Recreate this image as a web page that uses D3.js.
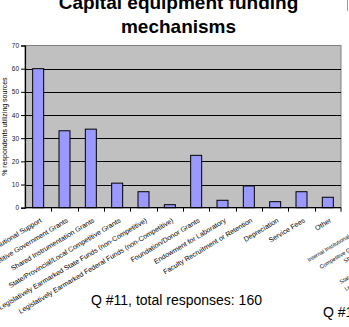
<!DOCTYPE html>
<html>
<head>
<meta charset="utf-8">
<script src="https://cdn.jsdelivr.net/npm/d3@7"></script>
<style>
  html, body { margin: 0; padding: 0; background: #fff; }
  svg { display: block; font-family: Arial, "Liberation Sans", sans-serif; }
</style>
</head>
<body>
<svg id="chart" width="349" height="327"></svg>
<script>
// Funding mechanisms and the share of respondents using each (Q #11)
const categories = [
  "Institutional Support",
  "Competitive Government Grants",
  "Shared Instrumentation Grants",
  "State/Provincial/Local Competitive Grants",
  "Legislatively Earmarked State Funds (non-Competitive)",
  "Legislatively Earmarked Federal Funds (non-Competitive)",
  "Foundation/Donor Grants",
  "Endowment for Laboratory",
  "Faculty Recruitment or Retention",
  "Depreciation",
  "Service Fees",
  "Other"
];
const percentages = [60, 33.2, 33.9, 10.6, 6.9, 1.3, 22.6, 3.2, 9.4, 2.6, 6.9, 4.5];
const yTicks = [0, 10, 20, 30, 40, 50, 60, 70];

// Labels of the neighbouring chart (Q #12), partly off the page
const nextCategories = [
  "Internal Institutional Support",
  "Competitive Government Grants",
  "Shared Instrumentation Grants",
  "State/Provincial/Local Competitive Grants",
  "Legislatively Earmarked State Funds"
];

const svg = d3.select("#chart");
const plot = { left: 25, right: 341, top: 45.5, bottom: 207.7 };

const x = d3.scaleBand().domain(categories).range([plot.left, plot.right]).padding(0);
const y = d3.scaleLinear().domain([0, 70]).range([plot.bottom, plot.top]);
const barW = 11;

// Title
const title = svg.append("text")
  .attr("x", 178.5).attr("text-anchor", "middle")
  .attr("font-weight", "bold").attr("font-size", 19).attr("fill", "#000");
title.append("tspan").attr("x", 178.5).attr("y", 9).text("Capital equipment funding");
title.append("tspan").attr("x", 178.5).attr("y", 33).text("mechanisms");

// Thin frame edge at the top right
svg.append("line").attr("x1", 347.5).attr("x2", 347.5).attr("y1", 0).attr("y2", 11)
  .attr("stroke", "#9a9a9a").attr("stroke-width", 1);

// Plot background
svg.append("rect")
  .attr("x", plot.left).attr("y", plot.top)
  .attr("width", plot.right - plot.left).attr("height", plot.bottom - plot.top)
  .attr("fill", "#c0c0c0").attr("stroke", "#808080").attr("stroke-width", 1);

// Gridlines
svg.append("g").selectAll("line")
  .data(yTicks.filter(t => t > 0 && t < 70))
  .join("line")
  .attr("x1", plot.left).attr("x2", plot.right)
  .attr("y1", d => Math.round(y(d)) + 0.5).attr("y2", d => Math.round(y(d)) + 0.5)
  .attr("stroke", "#000").attr("stroke-width", 1);

// Bars
svg.append("g").selectAll("rect")
  .data(categories.map((c, i) => ({ c, v: percentages[i] })))
  .join("rect")
  .attr("x", d => x(d.c) + x.bandwidth() / 2 - barW / 2)
  .attr("y", d => y(d.v))
  .attr("width", barW)
  .attr("height", d => y(0) - y(d.v))
  .attr("fill", "#9999ff").attr("stroke", "#000").attr("stroke-width", 1);

// Y axis
const yAxis = d3.axisLeft(y).tickValues(yTicks).tickSize(4).tickPadding(2);
const gy = svg.append("g").attr("transform", `translate(${plot.left},0)`).call(yAxis);
gy.select(".domain").attr("stroke", "#000").attr("stroke-width", 1.2);
gy.selectAll(".tick line").attr("stroke", "#000");
gy.selectAll(".tick text").attr("font-size", 6.5).attr("fill", "#222")
  .attr("font-family", "Arial, 'Liberation Sans', sans-serif");

// X axis: tick marks at category boundaries
const gx = svg.append("g").attr("transform", `translate(0,${plot.bottom})`);
gx.append("line").attr("x1", plot.left).attr("x2", plot.right).attr("y1", 0).attr("y2", 0)
  .attr("stroke", "#000").attr("stroke-width", 1.2);
gx.selectAll("line.tk")
  .data(categories.slice(1).concat(["__end"]))
  .join("line").attr("class", "tk")
  .attr("x1", (d, i) => i < categories.length - 1 ? Math.round(x(d)) + 0.5 : plot.right)
  .attr("x2", (d, i) => i < categories.length - 1 ? Math.round(x(d)) + 0.5 : plot.right)
  .attr("y1", 0).attr("y2", 4)
  .attr("stroke", "#000");

// Rotated category labels
svg.append("g").selectAll("text")
  .data(categories)
  .join("text")
  .attr("transform", d => `translate(${x(d) + x.bandwidth() / 2 + 4},${plot.bottom + 14}) rotate(-31)`)
  .attr("text-anchor", "end")
  .attr("font-size", 7)
  .attr("fill", "#000")
  .text(d => d);

// Y axis title, centred on the plot
svg.append("text")
  .attr("transform", `translate(7,${(plot.top + plot.bottom) / 2}) rotate(-90)`)
  .attr("text-anchor", "middle").attr("font-size", 7).attr("fill", "#000")
  .text("% respondents utilizing sources");

// Caption
svg.append("text")
  .attr("x", 176.5).attr("y", 305).attr("text-anchor", "middle")
  .attr("font-size", 14).attr("fill", "#000")
  .text("Q #11, total responses: 160");

// Neighbouring chart fragments
const nextStarts = [[309, 262], [321, 269], [345, 263], [341, 284], [346, 291]];
svg.append("g").selectAll("text")
  .data(nextCategories)
  .join("text")
  .attr("transform", (d, i) => `translate(${nextStarts[i][0]},${nextStarts[i][1]}) rotate(-31)`)
  .attr("font-size", 5.5).attr("fill", "#000")
  .text(d => d);

svg.append("text")
  .attr("x", 323).attr("y", 317).attr("font-size", 14).attr("fill", "#000")
  .text("Q #12");
</script>
</body>
</html>
